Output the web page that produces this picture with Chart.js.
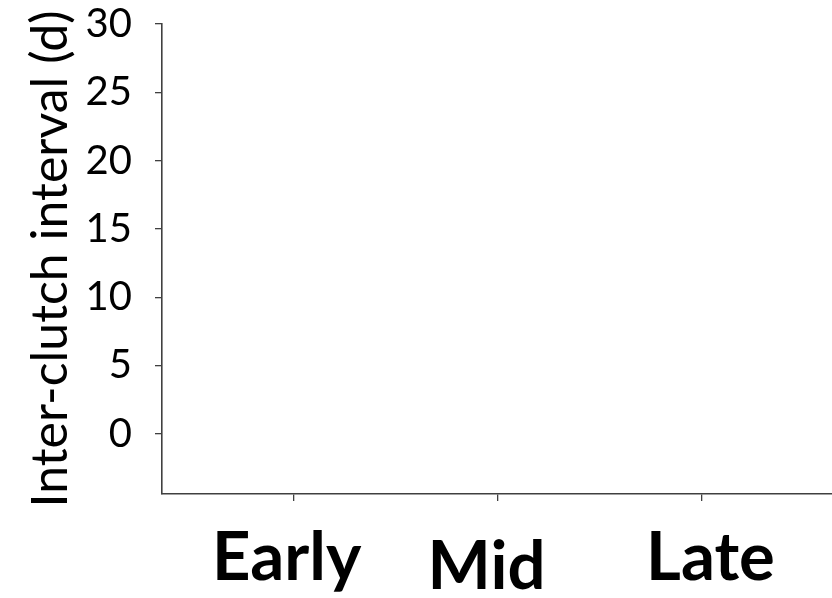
<!DOCTYPE html>
<html>
<head>
<meta charset="utf-8">
<script src="https://cdn.jsdelivr.net/npm/chart.js@4/dist/chart.umd.min.js"></script>
<style>
  html, body { margin: 0; padding: 0; background: #ffffff; }
  #wrap { width: 832px; height: 598px; }
</style>
</head>
<body>
<div id="wrap"><canvas id="c" width="832" height="598"></canvas></div>
<script>
// Breeding-season stages along the x axis
const categories = ['Early', 'Mid', 'Late'];
// Inter-clutch interval values per stage (none recorded)
const intervalValues = [];
// Y-axis tick values (days)
const yTickValues = [0, 5, 10, 15, 20, 25, 30];
const yMin = -4.4;
const yMax = 30;

const AXIS_COLOR = '#404040';
const FONT = 'Lato, "Liberation Sans", sans-serif';

// Stage names are drawn under their tick marks with a small per-label nudge
const labelNudge = [
  { dx: -7, dy: 86 },
  { dx: -11, dy: 95 },
  { dx: 9, dy: 86 }
];

const stageLabels = {
  id: 'stageLabels',
  afterDraw(chart) {
    const ctx = chart.ctx;
    const xs = chart.scales.x;
    const bottom = chart.chartArea.bottom;
    ctx.save();
    ctx.fillStyle = '#000000';
    ctx.font = 'bold 67px ' + FONT;
    ctx.textAlign = 'center';
    ctx.textBaseline = 'alphabetic';
    categories.forEach((name, i) => {
      const x = xs.getPixelForValue(i + 1) + labelNudge[i].dx;
      ctx.fillText(name, x, bottom + labelNudge[i].dy);
    });
    ctx.restore();
  }
};

new Chart(document.getElementById('c'), {
  type: 'scatter',
  data: {
    datasets: [{
      data: intervalValues.map((v, i) => ({ x: i + 1, y: v })),
      pointRadius: 0
    }]
  },
  options: {
    responsive: false,
    animation: false,
    events: [],
    layout: { padding: { left: 0, right: 0, top: 0, bottom: 96 } },
    plugins: { legend: { display: false }, tooltip: { enabled: false } },
    scales: {
      x: {
        type: 'linear',
        min: 0.355,
        max: 3.64,
        afterBuildTicks(scale) {
          scale.ticks = categories.map((c, i) => ({ value: i + 1 }));
        },
        afterFit(scale) { scale.height = 8; },
        ticks: { display: false },
        grid: {
          drawOnChartArea: false,
          drawTicks: true,
          tickLength: 7,
          color: AXIS_COLOR,
          lineWidth: 1.3
        },
        border: { display: true, color: AXIS_COLOR, width: 1.6 }
      },
      y: {
        type: 'linear',
        min: yMin,
        max: yMax,
        afterBuildTicks(scale) {
          scale.ticks = yTickValues.map(v => ({ value: v }));
        },
        afterFit(scale) {
          scale.width = 162;
          scale.paddingTop = 24;
          scale.paddingBottom = 0;
        },
        ticks: {
          color: '#000000',
          padding: 23,
          font: { family: FONT, size: 40 }
        },
        grid: {
          drawOnChartArea: false,
          drawTicks: true,
          tickLength: 7,
          color: AXIS_COLOR,
          lineWidth: 1.3
        },
        border: { display: true, color: AXIS_COLOR, width: 1.6 },
        title: {
          display: true,
          text: 'Inter-clutch interval (d)',
          color: '#000000',
          font: { family: FONT, size: 50 },
          padding: { top: 21, bottom: 0 }
        }
      }
    }
  },
  plugins: [stageLabels]
});
</script>
</body>
</html>
